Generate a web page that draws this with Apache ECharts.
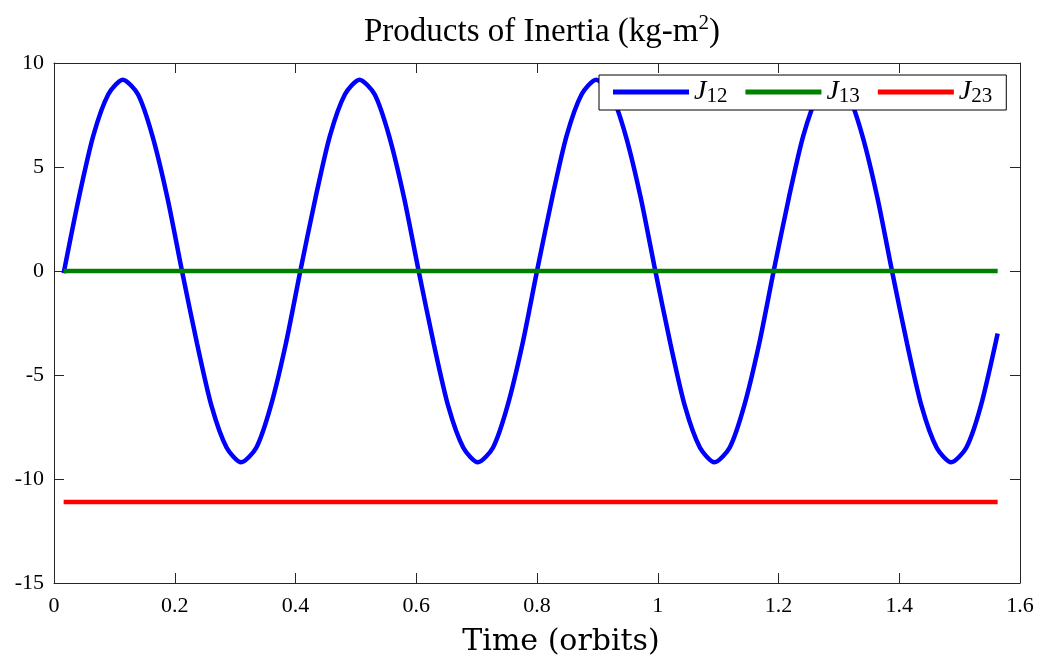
<!DOCTYPE html>
<html>
<head>
<meta charset="utf-8">
<script src="https://cdn.jsdelivr.net/npm/echarts@6/dist/echarts.min.js"></script>
<style>
  html, body { margin: 0; padding: 0; background: #fff; }
  #chart { width: 1042px; height: 658px; }
</style>
</head>
<body>
<div id="chart"></div>
<script>
// products of inertia over time
const timeJ12 = [
  0.016, 0.041, 0.065, 0.090, 0.114, 0.139, 0.163, 0.188,
  0.212, 0.237, 0.261, 0.286, 0.310, 0.335, 0.359, 0.384,
  0.408, 0.433, 0.457, 0.482, 0.506, 0.531, 0.555, 0.580,
  0.604, 0.629, 0.653, 0.678, 0.702, 0.727, 0.751, 0.776,
  0.800, 0.825, 0.849, 0.874, 0.898, 0.923, 0.947, 0.972,
  0.996, 1.021, 1.045, 1.070, 1.094, 1.119, 1.143, 1.168,
  1.192, 1.217, 1.241, 1.266, 1.290, 1.315, 1.339, 1.364,
  1.388, 1.413, 1.437, 1.462, 1.486, 1.511, 1.535, 1.563
];
const valuesJ12 = [
  -0.1, 3.5, 6.5, 8.5, 9.2, 8.5, 6.5, 3.5,
  0, -3.5, -6.5, -8.5, -9.2, -8.5, -6.5, -3.5,
  0, 3.5, 6.5, 8.5, 9.2, 8.5, 6.5, 3.5,
  0, -3.5, -6.5, -8.5, -9.2, -8.5, -6.5, -3.5,
  0, 3.5, 6.5, 8.5, 9.2, 8.5, 6.5, 3.5,
  0, -3.5, -6.5, -8.5, -9.2, -8.5, -6.5, -3.5,
  0, 3.5, 6.5, 8.5, 9.2, 8.5, 6.5, 3.5,
  0, -3.5, -6.5, -8.5, -9.2, -8.5, -6.5, -3.0
];
const timeFlat = [0.016, 1.563];
const valuesJ13 = [0, 0];
const valuesJ23 = [-11.1, -11.1];

const xTicks = [0, 0.2, 0.4, 0.6, 0.8, 1, 1.2, 1.4, 1.6];
const yTicks = [-15, -10, -5, 0, 5, 10];

const pairs = (xs, ys) => xs.map((x, i) => [x, ys[i]]);

const font = 'Liberation Serif';
const axisColor = '#262626';

const chart = echarts.init(document.getElementById('chart'));

const baseX = {
  type: 'value',
  min: xTicks[0],
  max: xTicks[xTicks.length - 1],
  interval: 0.2,
  splitLine: {show: false},
  axisLine: {onZero: false, lineStyle: {color: axisColor, width: 1}},
  axisTick: {inside: true, length: 10, lineStyle: {color: axisColor}}
};
const baseY = {
  type: 'value',
  min: yTicks[0],
  max: yTicks[yTicks.length - 1],
  interval: 5,
  splitLine: {show: false},
  axisLine: {onZero: false, lineStyle: {color: axisColor, width: 1}},
  axisTick: {inside: true, length: 10, lineStyle: {color: axisColor}}
};

const legendRich = {
  i: {fontFamily: font, fontStyle: 'italic', fontSize: 28, color: '#000', lineHeight: 30},
  s: {fontFamily: font, fontSize: 21, color: '#000', verticalAlign: 'bottom', lineHeight: 18}
};

const option = {
  animation: false,
  backgroundColor: '#fff',
  title: [
    {
      text: '{a|Products of Inertia (kg-m}{sup|2}{a|)}',
      left: 537,
      top: 8,
      textAlign: 'center',
      textStyle: {
        fontWeight: 'normal',
        rich: {
          a: {fontFamily: font, fontWeight: 'normal', fontSize: 33, color: '#000', lineHeight: 38},
          sup: {fontFamily: font, fontWeight: 'normal', fontSize: 21, color: '#000', verticalAlign: 'top', lineHeight: 18}
        }
      }
    },
    {
      text: 'Time (orbits)',
      left: 556,
      top: 622,
      textAlign: 'center',
      textStyle: {fontFamily: 'DejaVu Serif', fontSize: 30, fontWeight: 'normal', color: '#000'}
    }
  ],
  legend: {
    left: 599,
    top: 75,
    padding: [3, 14, 3, 14],
    itemGap: 18,
    itemWidth: 76,
    itemHeight: 5,
    icon: 'rect',
    backgroundColor: '#fff',
    borderColor: '#000',
    borderWidth: 1,
    borderRadius: 0,
    data: ['J12', 'J13', 'J23'],
    formatter: name => '{i|J}{s|' + name.slice(1) + '}',
    textStyle: {rich: legendRich}
  },
  grid: {left: 54, right: 22, top: 63, bottom: 75, containLabel: false},
  xAxis: [
    Object.assign({}, baseX, {
      position: 'bottom',
      axisLabel: {fontFamily: font, fontSize: 22, color: '#000', margin: 12,
        formatter: v => String(+v.toFixed(1))}
    }),
    Object.assign({}, baseX, {position: 'top', axisLabel: {show: false}})
  ],
  yAxis: [
    Object.assign({}, baseY, {
      position: 'left',
      axisLabel: {fontFamily: font, fontSize: 22, color: '#000', margin: 10}
    }),
    Object.assign({}, baseY, {position: 'right', axisLabel: {show: false}})
  ],
  series: [
    {
      name: 'J12', type: 'line', smooth: 0.25, showSymbol: false,
      color: '#0000ff', lineStyle: {width: 4.5},
      data: pairs(timeJ12, valuesJ12)
    },
    {
      name: 'J13', type: 'line', showSymbol: false,
      color: '#008000', lineStyle: {width: 4.5},
      data: pairs(timeFlat, valuesJ13)
    },
    {
      name: 'J23', type: 'line', showSymbol: false,
      color: '#ff0000', lineStyle: {width: 4.5},
      data: pairs(timeFlat, valuesJ23)
    }
  ]
};

chart.setOption(option);
</script>
</body>
</html>
